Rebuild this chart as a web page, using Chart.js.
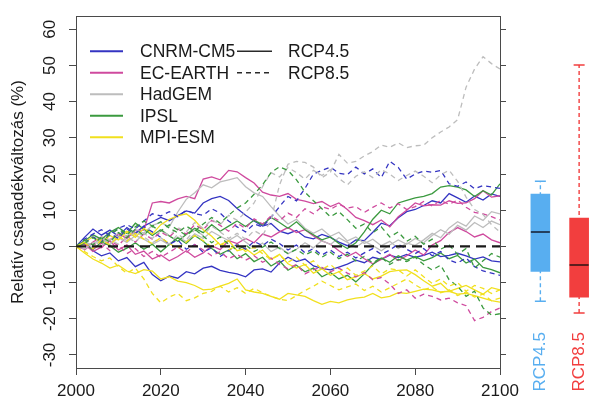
<!DOCTYPE html>
<html>
<head>
<meta charset="utf-8">
<title>Relatív csapadékváltozás</title>
<script src="https://cdn.jsdelivr.net/npm/chart.js@4.4.1/dist/chart.umd.min.js"></script>
<style>
  html, body { margin: 0; padding: 0; background: #fff; overflow: hidden; }
  #wrap { position: relative; width: 602px; height: 401px; }
  #main { position: absolute; left: 0; top: 0; }
  #box  { position: absolute; left: 499px; top: 0; }
</style>
</head>
<body>
<div id="wrap">
  <canvas id="main" width="602" height="401"></canvas>
  <canvas id="box" width="111" height="401"></canvas>
</div>
<script>
// ---- axes and labels ----
const years = [2000, 2002, 2004, 2006, 2008, 2010, 2012, 2014, 2016, 2018,
               2020, 2022, 2024, 2026, 2028, 2030, 2032, 2034, 2036, 2038,
               2040, 2042, 2044, 2046, 2048, 2050, 2052, 2054, 2056, 2058,
               2060, 2062, 2064, 2066, 2068, 2070, 2072, 2074, 2076, 2078,
               2080, 2082, 2084, 2086, 2088, 2090, 2092, 2094, 2096, 2098,
               2100];
const xTicks = [2000, 2020, 2040, 2060, 2080, 2100];
const yTicks = [-30, -20, -10, 0, 10, 20, 30, 40, 50, 60];
const yRange = [-33.6, 63.6];
const yTitle = 'Relatív csapadékváltozás (%)';

const models = ['CNRM-CM5', 'EC-EARTH', 'HadGEM', 'IPSL', 'MPI-ESM'];
const modelColors = ['#3434c2', '#cf4a9e', '#bdbdbd', '#3b9a3f', '#f1e01e'];
const scenarios = ['RCP4.5', 'RCP8.5'];
const scenarioColors = ['#58aef0', '#f23e3e'];
const medianColors = ['#24405e', '#5c1d1d'];

// reference line (no change)
const baselineYears = [2000, 2100];
const baseline = [0, 0];

// ---- precipitation change runs (%), RCP4.5 ----
const cnrm45a = [0, 2.5, 4.8, 3.1, 4.5, 2.8, 5.2, 3.6, 5.6, 6.8,
  8.0, 7.1, 8.5, 9.8, 9.2, 12.0, 13.2, 13.8, 12.7, 10.5,
  8.6, 7.0, 5.6, 6.3, 4.2, 3.5, 4.4, 2.6, 2.1, 3.3,
  2.5, 1.2, 0.2, 1.8, 1.6, 3.9, 6.4, 5.7, 7.9, 9.6,
  10.2, 11.3, 12.6, 12.0, 14.6, 13.4, 12.2, 13.9, 12.8, 14.5,
  13.8];
const cnrm45b = [0, 1.5, -1.2, -2.6, -1.8, -4.0, -3.1, -5.6, -4.4, -7.8,
  -9.5, -8.2, -8.8, -7.0, -7.6, -6.0, -5.5, -6.6, -7.2, -7.6,
  -8.4, -6.5, -6.2, -7.1, -4.6, -3.0, -4.2, -3.5, -5.4, -6.1,
  -6.5, -5.7, -4.9, -3.8, -4.5, -3.0, -3.6, -2.4, -3.1, -2.2,
  -3.0, -2.5, -1.6, -2.8, -2.5, -1.9, -2.6, -3.5, -2.9, -4.0,
  -4.3];
const ec45a = [0, -0.8, 1.2, 2.6, 1.8, 3.5, 2.2, 4.4, 4.5, 12.0,
  12.4, 12.0, 13.1, 13.8, 13.2, 18.6, 19.2, 18.4, 21.0, 20.6,
  19.0, 17.5, 15.0, 14.2, 13.8, 14.6, 13.0, 12.5, 11.8, 12.4,
  11.0, 12.0, 10.2, 8.0, 7.1, 6.0, 7.3, 5.4, 8.2, 10.0,
  12.0, 11.2, 11.5, 11.4, 12.6, 11.9, 12.0, 13.2, 15.4, 13.6,
  14.0];
const ec45b = [0, 0.6, -1.4, -0.2, 1.5, -1.0, 0.4, -2.2, -1.3, -3.5,
  -2.4, -4.0, -2.8, -1.2, -3.0, -1.8, 0.2, -0.9, 1.6, 0.8,
  2.2, 1.0, 3.4, 2.6, 4.0, 5.2, 3.8, 4.6, 2.9, 1.5,
  0.6, -1.2, -2.8, -1.6, -3.4, -4.8, -3.6, -2.2, -3.9, -2.6,
  -1.0, -2.4, 0.4, 1.6, 3.8, 5.2, 4.1, 2.6, 3.4, 1.8,
  1.0];
const had45a = [0, 1.2, 0.4, 2.5, 1.6, 3.8, 2.9, 4.6, 3.7, 5.8,
  6.6, 5.4, 9.5, 13.0, 14.8, 17.0, 16.2, 17.8, 18.4, 19.0,
  16.5, 14.8, 13.8, 11.0, 8.4, 6.2, 7.5, 5.0, 3.6, 4.8,
  2.8, 3.9, 1.5, 2.6, 0.8, 2.0, 0.2, 1.4, -0.6, 0.9,
  0.3, 1.8, 3.6, 2.4, 5.1, 6.8, 5.6, 8.4, 7.2, 9.6,
  9.0];
const had45b = [0, -0.6, 0.8, 1.9, 0.5, 2.4, 1.1, 3.0, 2.0, 0.6,
  1.8, 0.4, 2.6, 1.3, 3.5, 2.2, 4.1, 2.8, 1.6, 3.0,
  1.2, -0.5, 0.9, -1.4, -0.2, -2.0, -0.8, 1.0, -0.4, 1.6,
  0.5, 2.4, 1.1, -0.3, 1.4, 0.2, -1.2, 0.4, 1.8, 0.6,
  2.2, 1.0, 3.0, 4.6, 3.4, 5.8, 4.5, 6.6, 5.2, 7.0,
  6.0];
const ipsl45a = [0, 1.5, 3.2, 2.0, 3.9, 5.2, 3.6, 6.4, 4.8, 3.0,
  4.6, 2.9, 1.4, 3.3, 5.0, 3.8, 6.0, 4.2, 5.6, 7.0,
  5.5, 7.2, 6.0, 8.0, 6.6, 5.0, 6.8, 4.6, 3.2, 1.8,
  2.6, 0.8, -0.6, 1.0, 4.0, 7.5, 10.0, 9.0, 12.0, 12.7,
  13.4, 13.8, 14.6, 16.4, 16.8, 16.4, 15.6, 13.8, 15.4, 14.2,
  17.3];
const ipsl45b = [0, 0.8, -0.9, 1.2, 0.2, -1.6, -0.5, 1.0, -0.8, 0.6,
  -1.5, 0.5, 2.4, 0.8, 3.0, 1.4, -0.6, -2.2, -1.0, -3.4,
  -2.0, -4.2, -3.0, -5.4, -4.0, -6.6, -5.2, -7.0, -6.0, -8.4,
  -7.2, -9.0, -8.0, -9.8, -7.6, -5.0, -3.2, -4.4, -2.6, -3.8,
  -2.8, -4.0, -3.1, -1.8, -3.4, -2.5, -4.6, -3.5, -5.8, -6.4,
  -7.3];
const mpi45a = [0, 1.2, 2.6, 1.0, 3.0, 1.8, 4.2, 2.5, 5.0, 3.4,
  6.0, 7.5, 8.4, 9.0, 7.2, 4.6, 2.8, 0.4, 1.6, -1.2,
  -0.6, -2.4, -1.0, -3.6, -2.2, -4.8, -6.0, -5.0, -7.4, -6.2,
  -8.0, -7.0, -9.2, -8.4, -7.5, -9.0, -8.2, -7.0, -6.6, -6.5,
  -7.8, -9.5, -11.0, -10.2, -12.4, -11.6, -10.8, -12.0, -13.2, -11.4,
  -12.0];
const mpi45b = [0, -1.8, -3.5, -4.6, -6.0, -5.2, -6.8, -7.5, -6.4, -6.8,
  -9.0, -8.4, -9.6, -10.0, -10.8, -12.0, -11.8, -11.0, -10.2, -9.0,
  -12.0, -12.6, -13.0, -13.8, -14.6, -13.0, -13.4, -13.8, -15.0, -16.0,
  -15.2, -15.6, -14.8, -14.3, -14.0, -13.0, -14.2, -13.8, -12.8, -13.0,
  -12.4, -11.8, -12.0, -12.6, -12.4, -13.2, -13.0, -13.6, -14.3, -15.0,
  -15.4];

// ---- precipitation change runs (%), RCP8.5 ----
const cnrm85a = [0, 2.0, 3.4, 4.6, 3.0, 5.0, 6.0, 4.8, 7.0, 9.0,
  8.4, 9.6, 8.2, 10.0, 9.0, 8.6, 10.4, 9.2, 7.0, 5.4,
  4.0, 6.2, 5.4, 8.0, 11.0, 13.8, 12.6, 16.0, 20.0, 21.0,
  21.9, 20.2, 19.8, 21.9, 20.0, 21.4, 19.0, 23.5, 21.8, 18.6,
  20.0, 20.8, 20.5, 21.0, 17.3, 16.6, 17.8, 15.9, 16.8, 16.4,
  16.0];
const cnrm85b = [0, 1.0, 2.6, 1.4, 3.6, 2.2, 4.8, 3.5, 5.5, 4.0,
  2.5, 0.6, 1.8, -0.8, 0.5, -1.6, -0.4, -2.8, -1.2, 0.6,
  -0.8, 1.4, 0.2, 2.0, 0.8, -1.0, 0.4, -1.8, -0.6, -2.4,
  -1.0, -2.8, -1.6, -3.2, -1.8, -0.6, -2.2, -1.0, 0.6, -0.8,
  -2.0, -0.6, -2.6, -1.4, -3.8, -4.6, -3.2, -5.6, -6.8, -7.4,
  -8.0];
const ec85a = [0, -1.0, 0.8, -0.4, 1.6, 0.2, 2.8, 1.2, 3.4, 2.0,
  4.0, 2.6, 4.8, 3.4, 6.0, 4.6, 7.2, 5.8, 4.2, 6.4,
  5.0, 7.6, 6.2, 8.4, 7.0, 9.2, 8.0, 10.4, 9.0, 11.0,
  10.2, 11.6, 10.6, 11.0, 9.4, 10.8, 12.0, 10.6, 11.8, 10.2,
  11.0, 12.4, 11.2, 12.7, 11.6, 12.8, 10.8, 9.4, 9.0, 8.2,
  7.3];
const ec85b = [0, 0.6, -0.8, 0.9, -1.2, 0.4, -2.0, -0.6, -2.8, -1.4,
  -3.0, -1.6, -0.2, -1.8, 0.5, -1.0, -2.6, -1.5, -3.4, -2.2,
  -3.8, -2.6, -4.4, -3.2, -5.0, -6.2, -5.0, -7.6, -6.4, -5.8,
  -7.0, -6.0, -7.4, -8.4, -7.2, -9.2, -8.6, -10.4, -13.0, -12.0,
  -14.3, -13.2, -13.8, -14.8, -14.3, -15.6, -16.4, -20.5, -19.6, -18.0,
  -17.0];
const had85a = [0, 1.4, -0.6, 2.2, 0.8, 3.0, 1.6, 4.2, 2.6, 1.0,
  2.4, 0.6, 3.4, 1.8, 4.6, 3.0, 5.6, 4.0, 2.2, 3.6,
  2.0, 4.4, 3.0, 7.3, 17.0, 22.7, 23.5, 23.2, 21.9, 19.0,
  20.5, 25.4, 23.0, 23.5, 25.0, 26.2, 28.0, 27.4, 28.6, 27.3,
  27.8, 28.0, 30.0, 31.6, 33.0, 35.0, 44.0, 49.0, 52.4, 50.5,
  49.0];
const had85b = [0, -0.8, 1.0, 0.2, 2.0, 0.6, 2.6, 1.2, 3.6, 2.2,
  4.4, 3.0, 5.2, 4.0, 6.6, 5.0, 7.4, 6.0, 8.6, 7.2,
  9.5, 12.0, 16.5, 20.4, 19.2, 21.8, 20.4, 18.6, 21.0, 19.6,
  21.2, 18.8, 17.0, 19.4, 20.6, 19.0, 21.2, 20.0, 18.2, 19.6,
  20.8, 19.4, 17.6, 19.8, 21.0, 18.0, 13.6, 10.2, 8.8, 6.0,
  4.0];
const ipsl85a = [0, 1.8, 0.4, 2.6, 1.2, 3.8, 2.4, 4.8, 3.0, 5.6,
  4.2, 6.0, 4.6, 3.0, 4.8, 2.8, 1.0, 2.6, 0.6, -1.0,
  0.4, -1.4, -0.2, 1.2, -0.6, -2.0, -0.8, -2.4, -1.2, -3.0,
  -1.6, -3.4, -2.2, -4.0, -2.8, -4.6, -3.0, -5.0, -3.6, -4.2,
  -3.0, -5.0, -6.5, -5.2, -9.2, -11.0, -13.8, -12.4, -17.0, -19.0,
  -18.6];
const ipsl85b = [0, 0.8, 2.4, 1.0, 3.4, 4.8, 3.2, 5.4, 7.0, 5.6,
  6.8, 5.0, 3.8, 5.6, 4.2, 6.2, 8.0, 6.4, 8.6, 10.6,
  12.0, 14.4, 17.0, 20.4, 22.0, 21.0, 18.4, 15.0, 12.6, 10.4,
  8.2, 9.6, 7.4, 5.0, 6.2, 3.8, 5.4, 2.6, 4.0, 1.4,
  2.8, 0.6, 2.0, -0.8, 0.4, -2.2, -0.6, -6.0, -4.0, -2.0,
  -3.0];
const mpi85a = [0, -1.4, -2.8, -4.0, -3.2, -5.6, -7.4, -6.0, -9.0, -13.0,
  -15.6, -14.0, -13.0, -15.0, -14.2, -13.0, -12.4, -11.0, -12.6, -11.4,
  -13.0, -11.6, -12.8, -13.8, -14.6, -15.0, -13.6, -12.2, -11.0, -9.6,
  -10.8, -12.0, -11.2, -10.4, -12.2, -11.0, -12.6, -11.4, -10.2, -9.0,
  -10.6, -12.0, -11.2, -12.8, -12.0, -13.6, -12.6, -14.0, -13.2, -15.0,
  -14.3];
const mpi85b = [0, 1.0, -0.6, 1.8, 0.4, 2.8, 1.4, 3.6, 2.0, 0.8,
  2.4, 0.8, -0.6, 1.2, 3.0, 1.6, -0.2, 1.2, -1.0, 0.4,
  -1.4, -0.2, -2.0, -3.6, -2.4, -4.4, -3.0, -5.2, -4.0, -6.4,
  -5.0, -7.0, -6.0, -8.0, -6.8, -5.4, -7.6, -6.2, -6.5, -8.2,
  -6.5, -8.4, -10.2, -9.0, -11.0, -10.0, -12.4, -10.8, -11.6, -13.0,
  -12.0];

// model index, scenario index, values
const runs = [
  { model: 0, scen: 0, values: cnrm45a }, { model: 0, scen: 0, values: cnrm45b },
  { model: 1, scen: 0, values: ec45a },   { model: 1, scen: 0, values: ec45b },
  { model: 2, scen: 0, values: had45a },  { model: 2, scen: 0, values: had45b },
  { model: 3, scen: 0, values: ipsl45a }, { model: 3, scen: 0, values: ipsl45b },
  { model: 4, scen: 0, values: mpi45a },  { model: 4, scen: 0, values: mpi45b },
  { model: 0, scen: 1, values: cnrm85a }, { model: 0, scen: 1, values: cnrm85b },
  { model: 1, scen: 1, values: ec85a },   { model: 1, scen: 1, values: ec85b },
  { model: 2, scen: 1, values: had85a },  { model: 2, scen: 1, values: had85b },
  { model: 3, scen: 1, values: ipsl85a }, { model: 3, scen: 1, values: ipsl85b },
  { model: 4, scen: 1, values: mpi85a },  { model: 4, scen: 1, values: mpi85b }
];

// Tukey five-number summary (min, lower hinge, median, upper hinge, max)
function fivenum(vals) {
  const x = [...vals].sort((a, b) => a - b);
  const n = x.length;
  const n4 = Math.floor((n + 3) / 2) / 2;
  const d = [1, n4, (n + 1) / 2, n + 1 - n4, n];
  return d.map(p => 0.5 * (x[Math.floor(p) - 1] + x[Math.ceil(p) - 1]));
}
const endValues = scenarios.map((_, s) =>
  runs.filter(r => r.scen === s).map(r => r.values[r.values.length - 1]));
const stats = endValues.map(fivenum);

// ---- shared styling ----
const FONT = '"Liberation Sans", Arial, Helvetica, sans-serif';
const INK = '#1a1a1a';
const FRAME = '#4a4a4a';
Chart.defaults.font.family = FONT;
Chart.defaults.color = INK;

// Model / scenario key drawn inside the plot, top-left
const modelKey = {
  id: 'modelKey',
  afterDatasetsDraw(chart) {
    const { ctx, chartArea } = chart;
    const left = chartArea.left, top = chartArea.top;
    const row = i => top + 35 + i * 21.5;
    ctx.save();
    ctx.font = '17.5px ' + FONT;
    ctx.textBaseline = 'middle';
    ctx.textAlign = 'left';
    ctx.fillStyle = INK;
    models.forEach((m, i) => {
      ctx.strokeStyle = modelColors[i];
      ctx.lineWidth = 2;
      ctx.setLineDash([]);
      ctx.beginPath();
      ctx.moveTo(left + 14, row(i));
      ctx.lineTo(left + 47, row(i));
      ctx.stroke();
      ctx.fillText(m, left + 64, row(i) + 1);
    });
    scenarios.forEach((s, i) => {
      ctx.strokeStyle = '#2a2a2a';
      ctx.lineWidth = 1.6;
      ctx.setLineDash(i === 0 ? [] : [5, 4]);
      ctx.beginPath();
      ctx.moveTo(left + 161, row(i));
      ctx.lineTo(left + 196, row(i));
      ctx.stroke();
      ctx.setLineDash([]);
      ctx.fillText(s, left + 212, row(i) + 1);
    });
    ctx.restore();
  }
};

// Scenario names written upwards beneath each box
const scenarioLabels = {
  id: 'scenarioLabels',
  afterDraw(chart) {
    const { ctx, chartArea } = chart;
    const xs = chart.scales.x;
    ctx.save();
    ctx.font = '17px ' + FONT;
    ctx.textAlign = 'right';
    ctx.textBaseline = 'middle';
    scenarios.forEach((s, i) => {
      ctx.save();
      ctx.translate(xs.getPixelForValue(i), chartArea.bottom - 36);
      ctx.rotate(-Math.PI / 2);
      ctx.fillStyle = scenarioColors[i];
      ctx.fillText(s, 0, 0);
      ctx.restore();
    });
    ctx.restore();
  }
};

const setTicks = list => scale => { scale.ticks = list.map(v => ({ value: v })); };

const runDatasets = runs.map((r, idx) => ({
  label: models[r.model] + ' ' + scenarios[r.scen],
  data: years.map((x, i) => ({ x, y: r.values[i] })),
  borderColor: modelColors[r.model],
  borderWidth: 1.3,
  borderDash: r.scen === 1 ? [5, 4] : [],
  pointRadius: 0,
  tension: 0,
  fill: false,
  order: runs.length - idx
}));

const baselineDataset = {
  label: 'baseline',
  data: baselineYears.map((x, i) => ({ x, y: baseline[i] })),
  borderColor: '#1a1a1a',
  borderWidth: 2.3,
  borderDash: [10, 6],
  pointRadius: 0,
  fill: false,
  order: -1
};

new Chart(document.getElementById('main'), {
  type: 'line',
  data: { datasets: [...runDatasets, baselineDataset] },
  options: {
    responsive: false,
    animation: false,
    devicePixelRatio: 1,
    layout: { padding: { left: 0, right: 94, top: 8, bottom: 0 } },
    plugins: { legend: { display: false }, tooltip: { enabled: false } },
    scales: {
      x: {
        type: 'linear', position: 'bottom', min: xTicks[0], max: xTicks[xTicks.length - 1],
        afterBuildTicks: setTicks(xTicks),
        afterFit: s => { s.height = 33; },
        grid: { drawOnChartArea: false, drawTicks: true, tickLength: 7, color: FRAME, lineWidth: 1 },
        border: { display: true, color: FRAME, width: 1 },
        ticks: { font: { size: 17 }, color: INK, padding: 6, autoSkip: false, maxRotation: 0,
                 callback: v => String(v) }
      },
      xTop: {
        type: 'linear', position: 'top', min: xTicks[0], max: xTicks[xTicks.length - 1],
        afterFit: s => { s.height = 0; },
        grid: { display: false, drawTicks: false },
        border: { display: true, color: FRAME, width: 1 },
        ticks: { display: false }
      },
      y: {
        type: 'linear', position: 'left', min: yRange[0], max: yRange[1],
        afterBuildTicks: setTicks(yTicks),
        afterFit: s => { s.width = 76; },
        grid: { drawOnChartArea: false, drawTicks: true, tickLength: 7, color: FRAME, lineWidth: 1 },
        border: { display: true, color: FRAME, width: 1 },
        ticks: { font: { size: 17 }, color: INK, padding: 6, autoSkip: false,
                 minRotation: 90, maxRotation: 90, crossAlign: 'center',
                 callback: v => String(v) },
        title: { display: true, text: yTitle, font: { size: 17 }, color: INK,
                 padding: { top: 8, bottom: 0 } }
      },
      yRight: {
        type: 'linear', position: 'right', min: yRange[0], max: yRange[1],
        afterBuildTicks: setTicks(yTicks),
        afterFit: s => { s.width = 8; },
        grid: { drawOnChartArea: false, drawTicks: true, tickLength: 6, color: FRAME, lineWidth: 1 },
        border: { display: true, color: FRAME, width: 1 },
        ticks: { display: false }
      }
    }
  },
  plugins: [modelKey]
});

// ---- end-of-century distribution per scenario ----
new Chart(document.getElementById('box'), {
  type: 'bar',
  data: {
    labels: scenarios,
    datasets: [
      {
        type: 'bar',
        data: stats.map(s => [s[1], s[3]]),
        backgroundColor: scenarioColors,
        borderWidth: 0,
        barThickness: 19,
        order: 3
      },
      ...scenarios.map((name, s) => ({
        type: 'line',
        data: [{ x: name, y: stats[s][0] }, { x: name, y: stats[s][4] }],
        borderColor: scenarioColors[s],
        borderWidth: 1.4,
        borderDash: [4, 3],
        pointRadius: 0,
        fill: false,
        order: 4
      })),
      ...scenarios.map((name, s) => ({
        type: 'line',
        showLine: false,
        data: [{ x: name, y: stats[s][0] }, { x: name, y: stats[s][4] }],
        pointStyle: 'line',
        pointRadius: 5.5,
        pointBorderColor: scenarioColors[s],
        pointBorderWidth: 1.6,
        order: 2
      })),
      {
        type: 'line',
        showLine: false,
        data: scenarios.map((name, s) => ({ x: name, y: stats[s][2] })),
        pointStyle: 'line',
        pointRadius: 9.5,
        pointBorderColor: medianColors,
        pointBorderWidth: 2,
        order: 1
      }
    ]
  },
  options: {
    responsive: false,
    animation: false,
    devicePixelRatio: 1,
    layout: { padding: { left: 22, right: 0, top: 8, bottom: 0 } },
    plugins: { legend: { display: false }, tooltip: { enabled: false } },
    scales: {
      x: {
        type: 'category', offset: true,
        afterFit: s => { s.height = 33; },
        grid: { display: false, drawTicks: false },
        border: { display: false },
        ticks: { display: false }
      },
      y: { display: false, min: yRange[0], max: yRange[1] }
    }
  },
  plugins: [scenarioLabels]
});
</script>
</body>
</html>
